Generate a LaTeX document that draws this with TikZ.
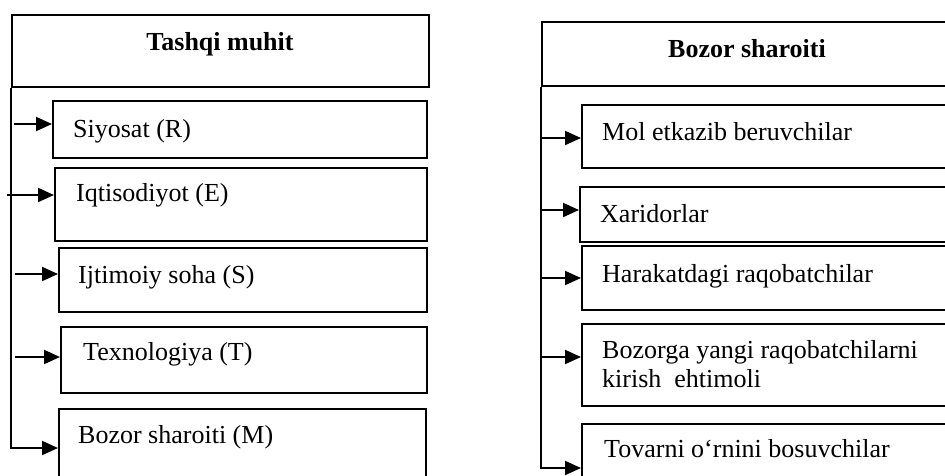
\documentclass[tikz,border=0pt]{standalone}
\usepackage{fontspec}
\setmainfont{Liberation Serif}
\usetikzlibrary{arrows.meta}
\tikzset{
  box/.style={draw,line width=2pt,anchor=north west,inner sep=0pt},
  lbl/.style={anchor=base west,inner sep=0pt,align=left,font=\fontsize{26}{29}\selectfont},
  head/.style={anchor=base,inner sep=0pt,font=\fontsize{26}{29}\selectfont\bfseries},
  feed/.style={-{Triangle[length=16pt,width=14pt]},line width=2pt}
}
\begin{document}
\begin{tikzpicture}[x=1pt,y=-1pt]
\useasboundingbox (0,0) rectangle (945,475);
\clip (0,0) rectangle (945,475);
% Tashqi muhit
\node[box,minimum width=417,minimum height=72] (lhead) at (11,14) {};
\node[head] (lheadtxt) at (220,50) {Tashqi muhit};
\node[box,minimum width=374,minimum height=57] (siyosat) at (52,100) {};
\node[box,minimum width=372,minimum height=73] (iqtisod) at (54,167) {};
\node[box,minimum width=368,minimum height=64] (ijtimoiy) at (58,247) {};
\node[box,minimum width=366,minimum height=66] (texno) at (60,326) {};
\node[box,minimum width=367,minimum height=90] (bozorM) at (58,408) {};
\node[lbl] (siyosattxt) at (73,137) {Siyosat (R)};
\node[lbl] (iqtisodtxt) at (76,201) {Iqtisodiyot (E)};
\node[lbl] (ijtimoiytxt) at (78,283) {Ijtimoiy soha (S)};
\node[lbl] (texnotxt) at (83,360) {Texnologiya (T)};
\node[lbl] (bozorMtxt) at (78,443) {Bozor sharoiti (M)};
\coordinate (a1) at (14,124);
\coordinate (a2) at (7,195);
\coordinate (a3) at (15,274);
\coordinate (a4) at (15,357);
\coordinate (lc) at (11,448);
\draw[feed] (a1) -- (siyosat.west |- a1);
\draw[feed] (a2) -- (iqtisod.west |- a2);
\draw[feed] (a3) -- (ijtimoiy.west |- a3);
\draw[feed] (a4) -- (texno.west |- a4);
\draw[feed] (lhead.south west) -- (lc) -- (bozorM.west |- lc);
% Bozor sharoiti
\node[box,minimum width=420,minimum height=64] (rhead) at (541,21) {};
\node[head] (rheadtxt) at (747,57) {Bozor sharoiti};
\node[box,minimum width=380,minimum height=63] (mol) at (581,104) {};
\node[box,minimum width=382,minimum height=55] (xarid) at (579,186) {};
\node[box,minimum width=380,minimum height=64] (harak) at (581,245) {};
\node[box,minimum width=380,minimum height=82] (bozorga) at (581,323) {};
\node[box,minimum width=380,minimum height=90] (tovar) at (581,423) {};
\node[lbl] (moltxt) at (602,140) {Mol etkazib beruvchilar};
\node[lbl] (xaridtxt) at (600,222) {Xaridorlar};
\node[lbl] (harraktxt) at (602,282) {Harakatdagi raqobatchilar};
\node[lbl] (bozorgatxt) at (602,387) {Bozorga yangi raqobatchilarni\\kirish\ \ ehtimoli};
\node[lbl] (tovartxt) at (604,457) {Tovarni o‘rnini bosuvchilar};
\coordinate (r1) at (541,138);
\coordinate (r2) at (541,210);
\coordinate (r3) at (541,278);
\coordinate (r4) at (541,357);
\coordinate (rc) at (541,468);
\draw[feed] (r1) -- (mol.west |- r1);
\draw[feed] (r2) -- (xarid.west |- r2);
\draw[feed] (r3) -- (harak.west |- r3);
\draw[feed] (r4) -- (bozorga.west |- r4);
\draw[feed] (rhead.south west) -- (rc) -- (tovar.west |- rc);
\end{tikzpicture}
\end{document}
